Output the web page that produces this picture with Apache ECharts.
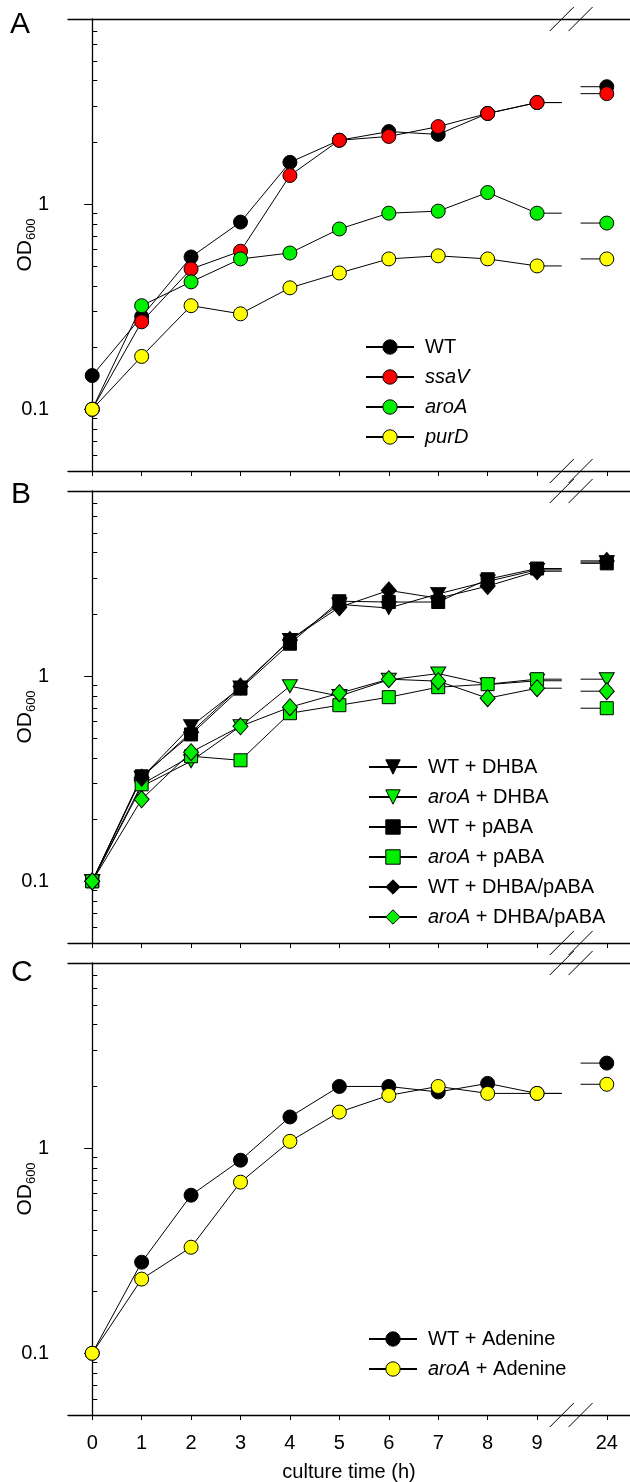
<!DOCTYPE html>
<html>
<head>
<meta charset="utf-8">
<script src="https://cdn.jsdelivr.net/npm/echarts@6/dist/echarts.min.js"></script>
<style>
  html, body { margin: 0; padding: 0; background: #fff; }
  #chart { width: 630px; height: 1482px; }
</style>
</head>
<body>
<div id="chart"></div>
<script>
// sampling times (h); the last one sits after the axis break
const hours = [0, 1, 2, 3, 4, 5, 6, 7, 8, 9, 24];
const xTicks = [0, 1, 2, 3, 4, 5, 6, 7, 8, 9, 24];
const yLabelTicks = [0.1, 1];
const yMinorTicks = [0.05, 0.06, 0.07, 0.08, 0.09, 0.2, 0.3, 0.4, 0.5, 0.6, 0.7, 0.8, 0.9, 2, 3, 4, 5, 6, 7, 8];

// panel A
const wt    = [0.146, 0.283, 0.553, 0.818, 1.60, 2.05, 2.26, 2.19, 2.77, 3.13, 3.74];
const ssaV  = [0.1, 0.267, 0.483, 0.59, 1.38, 2.05, 2.14, 2.39, 2.77, 3.13, 3.46];
const aroA  = [0.1, 0.32, 0.418, 0.541, 0.578, 0.757, 0.904, 0.925, 1.14, 0.904, 0.809];
const purD  = [0.1, 0.181, 0.32, 0.292, 0.391, 0.462, 0.541, 0.56, 0.541, 0.5, 0.541];

// panel B
const wtDhba     = [0.1, 0.32, 0.57, 0.88, 1.5, 2.24, 2.15, 2.52, 2.9, 3.3, 3.6];
const aroADhba   = [0.1, 0.29, 0.385, 0.57, 0.894, 0.8, 0.96, 1.03, 0.91, 0.95, 0.967];
const wtPaba     = [0.1, 0.325, 0.52, 0.87, 1.44, 2.32, 2.3, 2.3, 2.97, 3.35, 3.55];
const aroAPaba   = [0.1, 0.297, 0.407, 0.389, 0.66, 0.722, 0.79, 0.884, 0.914, 0.967, 0.698];
const wtBoth     = [0.1, 0.32, 0.533, 0.89, 1.5, 2.17, 2.62, 2.4, 2.75, 3.25, 3.65];
const aroABoth   = [0.1, 0.251, 0.426, 0.57, 0.706, 0.826, 0.967, 0.946, 0.781, 0.874, 0.845];

// panel C
const wtAde   = [0.1, 0.278, 0.59, 0.874, 1.42, 2.0, 2.0, 1.88, 2.07, 1.85, 2.6];
const aroAAde = [0.1, 0.23, 0.329, 0.683, 1.08, 1.5, 1.81, 2.0, 1.85, 1.85, 2.05];

const FONT = '"Liberation Sans", Arial, sans-serif';
const Y_MIN = 0.05, Y_MAX = 8;
const X_MIN = -0.49, X_MAX = 10.88;
const BREAK_LO = 9.5, BREAK_HI = 9.88, LATE_POS = 10.41;

const GREEN = '#00f000', RED = '#ff0000', YELLOW = '#ffff00', BLACK = '#000000';

// broken x axis: hours up to 9 are linear, 24 h is drawn just past the break
function xPos(h) { return h <= 9 ? h : LATE_POS; }

function points(vals) {
  const d = [];
  for (let i = 0; i < hours.length - 1; i++) d.push([xPos(hours[i]), vals[i]]);
  const last = hours.length - 1;
  d.push({ value: [BREAK_LO, vals[last - 1]], symbol: 'none' });
  d.push(['-', '-']);
  d.push({ value: [BREAK_HI, vals[last]], symbol: 'none' });
  d.push([xPos(hours[last]), vals[last]]);
  return d;
}

function line(name, vals, fill, g, symbol, size, rotate) {
  return {
    name: name,
    type: 'line',
    xAxisIndex: 2 * g,
    yAxisIndex: 2 * g,
    data: points(vals),
    symbol: symbol || 'circle',
    symbolSize: size || 14,
    symbolRotate: rotate || 0,
    connectNulls: false,
    lineStyle: { color: '#000', width: 1 },
    itemStyle: { color: fill, borderColor: '#000', borderWidth: 1 },
    emphasis: { disabled: true }
  };
}

const tops = [19, 491, 963];
const gridH = 452;

const grids = tops.map(t => ({ left: 68, right: 0, top: t, height: gridH, outerBoundsMode: 'none' }));

const xAxes = [];
const yAxes = [];
tops.forEach((t, g) => {
  const last = g === 2;
  xAxes.push({
    type: 'value', gridIndex: g, min: X_MIN, max: X_MAX,
    axisLine: { show: true, lineStyle: { color: '#000', width: 1.3 } },
    axisTick: { show: true, length: 5, customValues: xTicks.map(xPos), lineStyle: { color: '#000' } },
    axisLabel: {
      show: last, margin: 18, fontSize: 20, color: '#000', fontFamily: FONT,
      customValues: xTicks.map(xPos),
      formatter: v => String(xTicks.find(h => Math.abs(xPos(h) - v) < 1e-6))
    },
    splitLine: { show: false },
    name: last ? 'culture time (h)' : '',
    nameLocation: 'middle', nameGap: 47, nameMoveOverlap: false,
    nameTextStyle: { fontSize: 20, color: '#000', fontFamily: FONT }
  });
  xAxes.push({
    type: 'value', gridIndex: g, min: X_MIN, max: X_MAX, position: 'top',
    axisLine: { show: true, lineStyle: { color: '#000', width: 1.3 } },
    axisTick: { show: false }, axisLabel: { show: false }, splitLine: { show: false }
  });
  yAxes.push({
    type: 'log', logBase: 10, gridIndex: g, min: Y_MIN, max: Y_MAX,
    axisLine: { show: true, lineStyle: { color: '#000', width: 1.3 } },
    axisTick: { show: true, length: 8, customValues: yLabelTicks, lineStyle: { color: '#000' } },
    axisLabel: {
      margin: 19, fontSize: 20, color: '#000', fontFamily: FONT,
      customValues: yLabelTicks, formatter: v => String(v)
    },
    splitLine: { show: false },
    name: '{a|OD}{b|600}', nameLocation: 'middle', nameGap: 30, nameMoveOverlap: false,
    nameTextStyle: {
      color: '#000',
      rich: {
        a: { fontSize: 21, fontFamily: FONT, color: '#000', lineHeight: 26 },
        b: { fontSize: 13, fontFamily: FONT, color: '#000', lineHeight: 16, verticalAlign: 'bottom' }
      }
    }
  });
  yAxes.push({
    type: 'log', logBase: 10, gridIndex: g, min: Y_MIN, max: Y_MAX,
    axisLine: { show: false },
    axisTick: { show: true, length: 5, customValues: yMinorTicks, lineStyle: { color: '#000' } },
    axisLabel: { show: false },
    splitLine: { show: false }
  });
});

const series = [
  line('WT', wt, BLACK, 0),
  line('ssaV', ssaV, RED, 0),
  line('aroA', aroA, GREEN, 0),
  line('purD', purD, YELLOW, 0),

  line('WT + DHBA', wtDhba, BLACK, 1, 'triangle', [15, 13], 180),
  line('aroA + DHBA', aroADhba, GREEN, 1, 'triangle', [15, 13], 180),
  line('WT + pABA', wtPaba, BLACK, 1, 'rect', 13),
  line('aroA + pABA', aroAPaba, GREEN, 1, 'rect', 13),
  line('WT + DHBA/pABA', wtBoth, BLACK, 1, 'diamond', [15, 17]),
  line('aroA + DHBA/pABA', aroABoth, GREEN, 1, 'diamond', [15, 17]),

  line('WT + Adenine', wtAde, BLACK, 2),
  line('aroA + Adenine', aroAAde, YELLOW, 2)
];

function legend(names, left, top) {
  return {
    data: names, orient: 'vertical', left: left, top: top,
    itemWidth: 48, itemHeight: 18, itemGap: 10, padding: 0,
    selectedMode: false,
    itemStyle: { borderColor: '#000', borderWidth: 1 },
    formatter: n => n.replace(/(ssaV|aroA|purD)/, '{i|$1}'),
    textStyle: {
      fontSize: 20, color: '#000', fontFamily: FONT, padding: [0, 0, 0, 6],
      rich: { i: { fontSize: 20, color: '#000', fontFamily: FONT, fontStyle: 'italic' } }
    }
  };
}

const letterStyle = { fontSize: 30, fontWeight: 'normal', color: '#000', fontFamily: FONT };

const chart = echarts.init(document.getElementById('chart'), null, { renderer: 'canvas' });
chart.setOption({
  animation: false,
  backgroundColor: '#fff',
  title: [
    { text: 'A', left: 10, top: 10, padding: 0, textStyle: letterStyle },
    { text: 'B', left: 11, top: 480, padding: 0, textStyle: letterStyle },
    { text: 'C', left: 11, top: 958, padding: 0, textStyle: letterStyle }
  ],
  grid: grids,
  xAxis: xAxes,
  yAxis: yAxes,
  legend: [
    legend(['WT', 'ssaV', 'aroA', 'purD'], 365, 337),
    legend(['WT + DHBA', 'aroA + DHBA', 'WT + pABA', 'aroA + pABA', 'WT + DHBA/pABA', 'aroA + DHBA/pABA'], 368, 757),
    legend(['WT + Adenine', 'aroA + Adenine'], 368, 1329)
  ],
  series: series
});

// break marks on the top and bottom axis lines of each panel
const marks = [];
tops.forEach((t, g) => {
  [BREAK_LO, BREAK_HI].forEach(bx => {
    [Y_MIN, Y_MAX].forEach(yv => {
      const p = chart.convertToPixel({ xAxisIndex: 2 * g, yAxisIndex: 2 * g }, [bx, yv]);
      marks.push({
        type: 'line', silent: true, z: 100,
        shape: { x1: p[0] - 12, y1: p[1] + 12, x2: p[0] + 12, y2: p[1] - 12 },
        style: { stroke: '#000', lineWidth: 1 }
      });
    });
  });
});
chart.setOption({ graphic: marks });
</script>
</body>
</html>
